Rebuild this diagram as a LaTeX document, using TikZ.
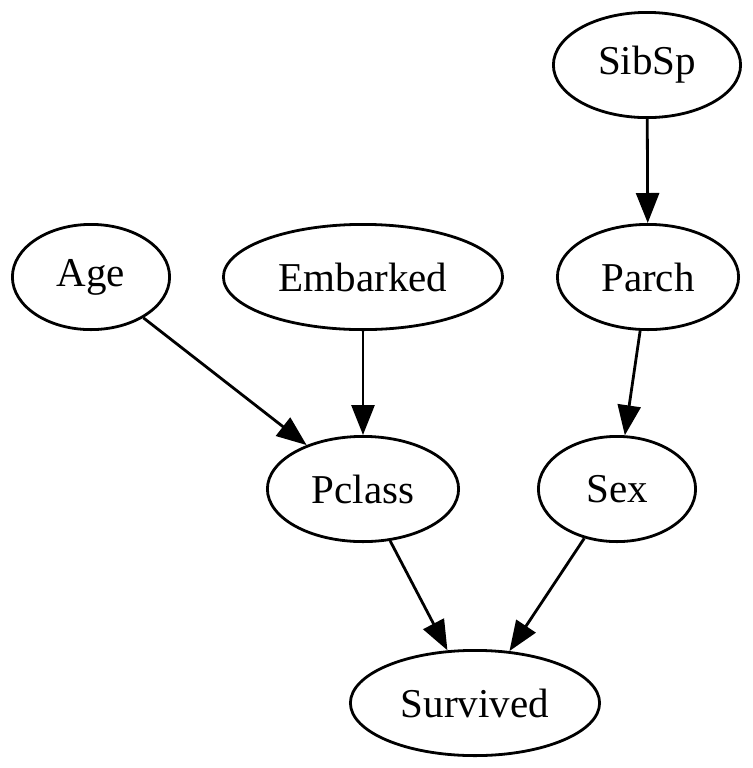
\documentclass[tikz,border=0pt]{standalone}
\usepackage{fontspec}
\setmainfont{Liberation Serif}
\usetikzlibrary{arrows.meta, shapes.geometric}

\begin{document}
\begin{tikzpicture}[
    x=0.5pt, y=-0.5pt,
    var node/.style={
        ellipse,
        draw=black,
        line width=1.4pt,
        inner sep=0pt,
        minimum height=52.6pt,
        font=\fontsize{20.5}{24}\selectfont
    },
    dep edge/.style={
        line width=1.4pt,
        -{Triangle[length=15pt,width=11.5pt]}
    }
]
    % frame of the picture
    \useasboundingbox (0,0) rectangle (753,768);

    % variables, top row first
    \node[var node, minimum width=93.6pt]  (sibsp)    at (647,65)  {SibSp};
    \node[var node, minimum width=78.6pt]  (age)      at (91,277)  {Age};
    \node[var node, minimum width=139.6pt] (embarked) at (363,277) {Embarked};
    \node[var node, minimum width=90.6pt]  (parch)    at (648,277) {Parch};
    \node[var node, minimum width=95.6pt]  (pclass)   at (363,489) {Pclass};
    \node[var node, minimum width=78.6pt]  (sex)      at (617,489) {Sex};
    \node[var node, minimum width=124.6pt] (survived) at (475,703) {Survived};

    % dependencies
    \draw[dep edge] (sibsp) -- (parch);
    \draw[dep edge] (age) -- (pclass);
    \draw[dep edge] (embarked) -- (pclass);
    \draw[dep edge] (parch) -- (sex);
    \draw[dep edge] (pclass) -- (survived);
    \draw[dep edge] (sex) -- (survived);
\end{tikzpicture}
\end{document}
